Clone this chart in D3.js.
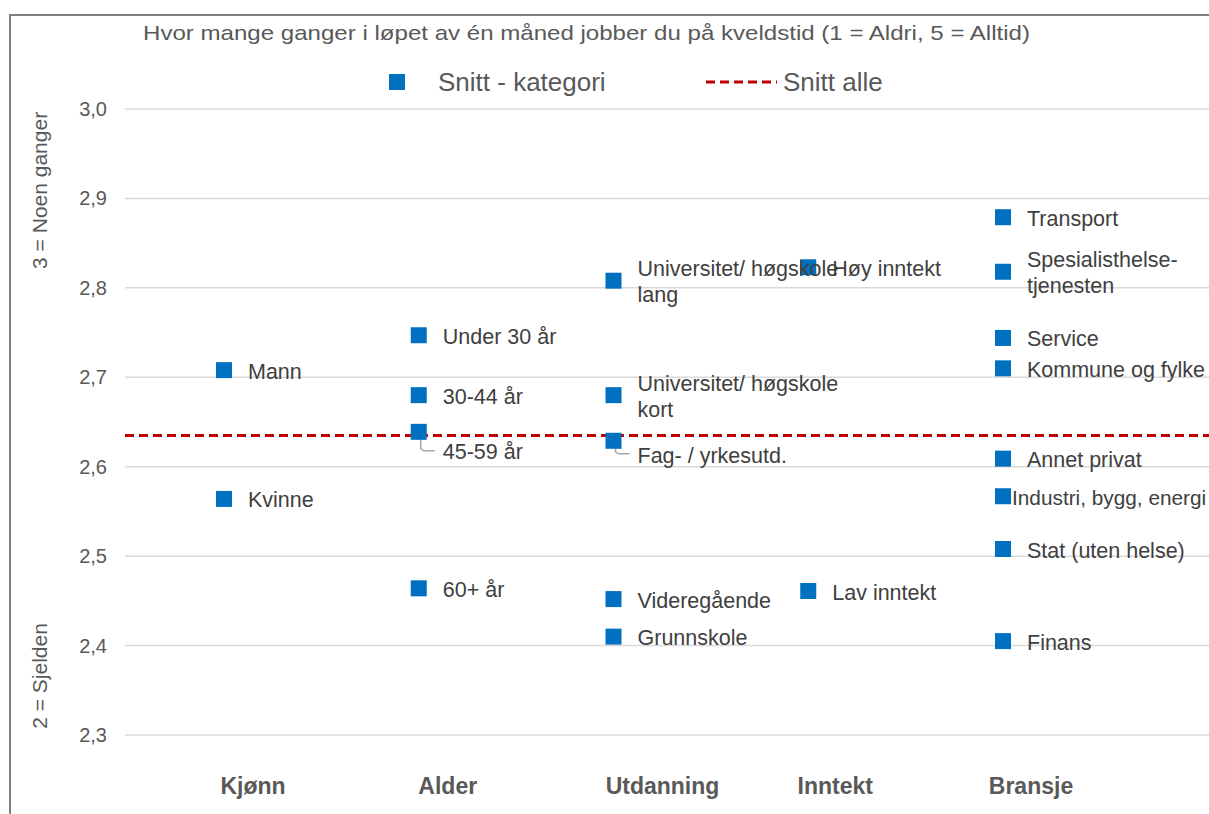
<!DOCTYPE html>
<html>
<head>
<meta charset="utf-8">
<script src="https://cdn.jsdelivr.net/npm/d3@7"></script>
<style>
  body { margin: 0; background: #fff; }
  text { font-family: "Liberation Sans", Arial, sans-serif; }
</style>
</head>
<body>
<div class="chart"></div>
<script>
// categories along the x axis
const categories = ["Kjønn", "Alder", "Utdanning", "Inntekt", "Bransje"];

// one small array per category: labels + averages
const kjonnLabels = ["Mann", "Kvinne"];
const kjonnValues = [2.708, 2.564];

const alderLabels = ["Under 30 år", "30-44 år", "45-59 år", "60+ år"];
const alderValues = [2.747, 2.680, 2.639, 2.464];

const utdLabels = ["Universitet/ høgskole\nlang", "Universitet/ høgskole\nkort", "Fag- / yrkesutd.", "Videregående", "Grunnskole"];
const utdValues = [2.808, 2.680, 2.629, 2.452, 2.410];

const inntektLabels = ["Høy inntekt", "Lav inntekt"];
const inntektValues = [2.823, 2.461];

const bransjeLabels = ["Transport", "Spesialisthelse-\ntjenesten", "Service", "Kommune og fylke", "Annet privat", "Industri, bygg, energi", "Stat (uten helse)", "Finans"];
const bransjeValues = [2.879, 2.818, 2.744, 2.710, 2.609, 2.567, 2.508, 2.405];

const snittAlle = 2.635;

const yTicks = [2.3, 2.4, 2.5, 2.6, 2.7, 2.8, 2.9, 3.0];

const groups = [
    [kjonnLabels, kjonnValues],
    [alderLabels, alderValues],
    [utdLabels, utdValues],
    [inntektLabels, inntektValues],
    [bransjeLabels, bransjeValues]
];

let points = [];
groups.forEach(function(g, i){
    g[0].forEach(function(lab, j){
        points.push({cat: i + 1, label: lab, value: g[1][j]});
    });
});

const width = 1209;
const height = 814;

const svg = d3.select('.chart')
    .append('svg')
    .attr('width', width)
    .attr('height', height);

// chart border (cut off on the right and bottom)
svg.append("rect")
    .attr("x", 10).attr("y", 15)
    .attr("width", 1300).attr("height", 900)
    .attr("fill", "none")
    .attr("stroke", "#7f7f7f")
    .attr("stroke-width", 2);

const x = d3.scaleLinear().domain([1, 5]).range([224, 1003]);
const y = d3.scaleLinear().domain([2.3, 3.0]).range([735, 109]);

// gridlines
svg.selectAll(".grid")
    .data(yTicks)
    .enter()
    .append("line")
    .attr("x1", 125)
    .attr("x2", width)
    .attr("y1", d => y(d))
    .attr("y2", d => y(d))
    .attr("stroke", "#d9d9d9")
    .attr("stroke-width", 1.5);

// y tick labels
svg.selectAll(".ytick")
    .data(yTicks)
    .enter()
    .append("text")
    .text(d => d3.format(".1f")(d).replace(".", ","))
    .attr("x", 107)
    .attr("y", d => y(d))
    .attr("dy", "0.35em")
    .attr("text-anchor", "end")
    .attr("font-size", "20px")
    .attr("fill", "#595959");

// y axis titles
svg.append("text")
    .text("3 = Noen ganger")
    .attr("transform", "translate(47," + y(2.909) + ") rotate(-90)")
    .attr("text-anchor", "middle")
    .attr("font-size", "21px")
    .attr("fill", "#595959");

svg.append("text")
    .text("2 = Sjelden")
    .attr("transform", "translate(47," + y(2.366) + ") rotate(-90)")
    .attr("text-anchor", "middle")
    .attr("font-size", "21px")
    .attr("fill", "#595959");

// title
svg.append("text")
    .text("Hvor mange ganger i løpet av én måned jobber du på kveldstid (1 = Aldri, 5 = Alltid)")
    .attr("x", 143)
    .attr("y", 40)
    .attr("font-size", "21px")
    .attr("textLength", 887)
    .attr("lengthAdjust", "spacingAndGlyphs")
    .attr("fill", "#595959");

// legend
svg.append("rect")
    .attr("x", 389).attr("y", 74)
    .attr("width", 16).attr("height", 16)
    .attr("fill", "#0070c0");
svg.append("text")
    .text("Snitt - kategori")
    .attr("x", 438).attr("y", 82)
    .attr("dy", "0.35em")
    .attr("font-size", "26px")
    .attr("fill", "#595959");
svg.append("line")
    .attr("x1", 706).attr("x2", 777)
    .attr("y1", 82).attr("y2", 82)
    .attr("stroke", "#c00000")
    .attr("stroke-width", 3)
    .attr("stroke-dasharray", "9,5");
svg.append("text")
    .text("Snitt alle")
    .attr("x", 783).attr("y", 82)
    .attr("dy", "0.35em")
    .attr("font-size", "26px")
    .attr("fill", "#595959");

// average line for all
svg.append("line")
    .attr("x1", 125)
    .attr("x2", width)
    .attr("y1", y(snittAlle))
    .attr("y2", y(snittAlle))
    .attr("stroke", "#c00000")
    .attr("stroke-width", 3)
    .attr("stroke-dasharray", "9,5");

// leader lines for the labels that sit below the marker
const leaders = ["45-59 år", "Fag- / yrkesutd."];
svg.selectAll(".leader")
    .data(points.filter(d => leaders.includes(d.label)))
    .enter()
    .append("path")
    .attr("d", function(d){
        let px = x(d.cat) + 2, py = y(d.value);
        let by = d.label == "45-59 år" ? py + 19 : py + 13;
        return "M" + px + "," + py + " L" + px + "," + (by - 2) + " L" + (px + 3) + "," + by + " L" + (px + 14) + "," + by;
    })
    .attr("fill", "none")
    .attr("stroke", "#a6a6a6")
    .attr("stroke-width", 1.5);

// markers
svg.selectAll(".marker")
    .data(points)
    .enter()
    .append("rect")
    .attr("x", d => x(d.cat) - 8)
    .attr("y", d => y(d.value) - 8)
    .attr("width", 16)
    .attr("height", 16)
    .attr("fill", "#0070c0");

// point labels
let labels = svg.selectAll(".plabel")
    .data(points)
    .enter()
    .append("text")
    .attr("font-size", d => d.label == "Industri, bygg, energi" ? "20.8px" : "21.5px")
    .attr("fill", "#404040")
    .attr("x", function(d){
        if (d.label == "Industri, bygg, energi") return x(d.cat) + 9;
        return x(d.cat) + 24;
    })
    .attr("y", function(d){
        let py = y(d.value);
        if (d.label == "45-59 år") return py + 20;
        if (d.label == "Fag- / yrkesutd.") return py + 15;
        return py + 1;
    });

labels.each(function(d){
    let lines = d.label.split("\n");
    let t = d3.select(this);
    let x0 = t.attr("x");
    lines.forEach(function(l, k){
        t.append("tspan")
            .text(l)
            .attr("x", x0)
            .attr("dy", k == 0 ? (0.35 - (lines.length - 1) * 0.6) + "em" : "1.2em");
    });
});

// category labels
const catDx = [29, 29, 49, 27, 28];
svg.selectAll(".cat")
    .data(categories)
    .enter()
    .append("text")
    .text(d => d)
    .attr("x", (d, i) => x(i + 1) + catDx[i])
    .attr("y", 786)
    .attr("dy", "0.35em")
    .attr("text-anchor", "middle")
    .attr("font-size", "23px")
    .attr("font-weight", "bold")
    .attr("fill", "#595959");
</script>
</body>
</html>
